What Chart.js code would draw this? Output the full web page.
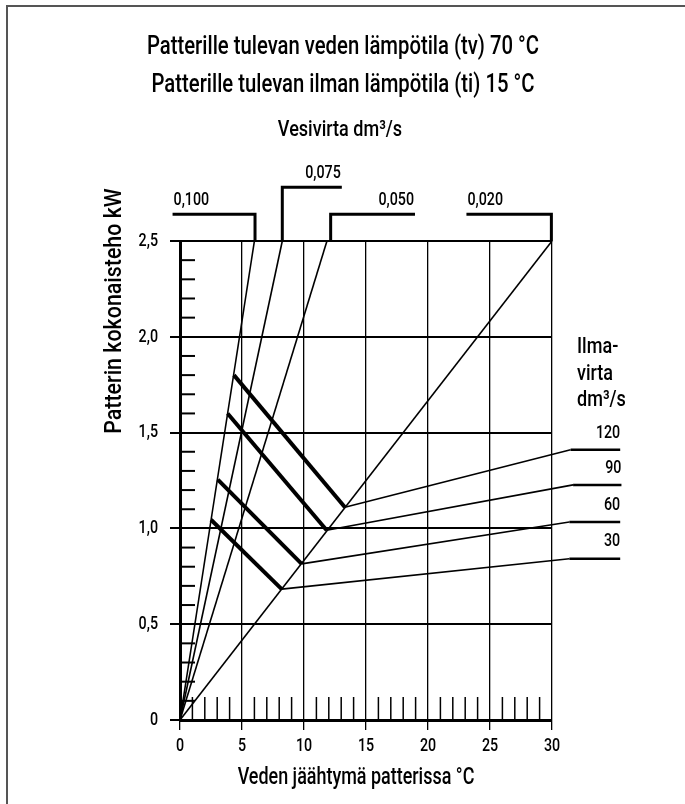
<!DOCTYPE html>
<html lang="fi">
<head>
<meta charset="utf-8">
<title>Patterin kokonaisteho</title>
<script src="https://cdn.jsdelivr.net/npm/chart.js@4.4.1/dist/chart.umd.min.js"></script>
<style>
  html, body { margin: 0; padding: 0; background: #fff; }
  canvas { display: block; }
</style>
</head>
<body>
<canvas id="chart" width="685" height="804"></canvas>
<script>
// === arvot luettu kuvasta ===
const xTicks = [0, 5, 10, 15, 20, 25, 30];
const xTickLabels = ['0', '5', '10', '15', '20', '25', '30'];
const yTicks = [0, 0.5, 1.0, 1.5, 2.0, 2.5];
const yTickLabels = ['0', '0,5', '1,0', '1,5', '2,0', '2,5'];
const xMinor = [1, 2, 3, 4, 6, 7, 8, 9, 11, 12, 13, 14, 16, 17, 18, 19, 21, 22, 23, 24, 26, 27, 28, 29];
const yMinor = [0.1, 0.2, 0.3, 0.4, 0.6, 0.7, 0.8, 0.9, 1.1, 1.2, 1.3, 1.4, 1.6, 1.7, 1.8, 1.9, 2.1, 2.2, 2.3, 2.4];

// vesivirta: suorat origosta 2,5 kW:iin
const vesiLabels = ['0,100', '0,075', '0,050', '0,020'];
const vesiTopX = [6.0, 8.25, 11.85, 30];
const vesiBracketX = [6.05, 8.25, 12.15, 29.95];
const vesiBracketY = [2.64, 2.78, 2.64, 2.64];
const vesiBracketEnd = [-0.6, 13.05, 18.95, 23.1];

// ilmavirta: paksu osa, ohut jatke ja merkintäviiva
const ilmaLabels = ['120', '90', '60', '30'];
const ilmaStartX = [4.35, 3.84, 3.05, 2.5];
const ilmaStartY = [1.80, 1.60, 1.255, 1.045];
const ilmaEndX = [13.3, 11.83, 9.81, 8.2];
const ilmaEndY = [1.11, 0.99, 0.815, 0.683];
const ilmaTailX = [31.5, 31.7, 31.4, 31.4];
const ilmaTailY = [1.41, 1.227, 1.033, 0.842];
const ilmaLabelEndX = [35.5, 35.6, 35.5, 35.5];

const FONT = 'Roboto, "Noto Sans", sans-serif';

function line(points, width) {
    return { data: points, borderColor: '#000', borderWidth: width, pointRadius: 0, fill: false, tension: 0, clip: false, borderCapStyle: 'butt' };
}

const datasets = [];
vesiTopX.forEach((tx, i) => {
    datasets.push(line([{ x: 0, y: 0 }, { x: tx, y: 2.5 }], 1.6));
    datasets.push(line([
        { x: vesiBracketEnd[i], y: vesiBracketY[i] },
        { x: vesiBracketX[i], y: vesiBracketY[i] },
        { x: vesiBracketX[i], y: 2.5 }
    ], 3));
});
ilmaLabels.forEach((lab, i) => {
    datasets.push(line([{ x: ilmaStartX[i], y: ilmaStartY[i] }, { x: ilmaEndX[i], y: ilmaEndY[i] }], 4));
    datasets.push(line([{ x: ilmaEndX[i], y: ilmaEndY[i] }, { x: ilmaTailX[i], y: ilmaTailY[i] }], 1.6));
    datasets.push(line([{ x: ilmaTailX[i], y: ilmaTailY[i] }, { x: ilmaLabelEndX[i], y: ilmaTailY[i] }], 2.5));
});

// kapea teksti: fontti puristetaan vaakasuunnassa (alkuperäinen on kapea groteski)
function text(ctx, str, x, y, size, align, sx) {
    ctx.save();
    ctx.translate(x, y);
    ctx.scale(sx || 0.8, 1);
    ctx.font = '500 ' + size + 'px ' + FONT;
    ctx.textAlign = align || 'center';
    ctx.textBaseline = 'middle';
    ctx.fillText(str, 0, 0);
    ctx.restore();
}

const overlay = {
    id: 'overlay',
    beforeDraw(chart) {
        const ctx = chart.ctx;
        ctx.save();
        ctx.strokeStyle = '#555';
        ctx.lineWidth = 2;
        ctx.beginPath();
        ctx.moveTo(7, 810); ctx.lineTo(7, 6); ctx.lineTo(690, 6);
        ctx.stroke();
        ctx.restore();
    },
    beforeDatasetsDraw(chart) {
        const { ctx, scales: { x, y } } = chart;
        ctx.save();
        ctx.strokeStyle = '#000';
        ctx.lineWidth = 2;
        yMinor.forEach(v => {
            const py = y.getPixelForValue(v);
            ctx.beginPath(); ctx.moveTo(x.getPixelForValue(0), py); ctx.lineTo(x.getPixelForValue(0) + 15, py); ctx.stroke();
        });
        ctx.lineWidth = 1.5;
        xMinor.forEach(v => {
            const px = x.getPixelForValue(v);
            ctx.beginPath(); ctx.moveTo(px, y.getPixelForValue(0)); ctx.lineTo(px, y.getPixelForValue(0) - 23); ctx.stroke();
        });
        ctx.restore();
    },
    afterDraw(chart) {
        const { ctx, scales: { x, y }, chartArea } = chart;
        ctx.save();
        ctx.fillStyle = '#000';
        text(ctx, 'Patterille tulevan veden lämpötila (tv) 70 °C', 343, 47, 26, 'center', 0.78);
        text(ctx, 'Patterille tulevan ilman lämpötila (ti) 15 °C', 343, 85, 26, 'center', 0.78);
        text(ctx, 'Vesivirta dm³/s', 340, 130, 22, 'center', 0.82);
        text(ctx, 'Veden jäähtymä patterissa °C', 356, 778, 23, 'center', 0.78);

        ctx.save();
        ctx.translate(115, 311);
        ctx.rotate(-Math.PI / 2);
        text(ctx, 'Patterin kokonaisteho kW', 0, 0, 23, 'center', 0.93);
        ctx.restore();

        // akseleiden numerot
        xTicks.forEach((v, i) => text(ctx, xTickLabels[i], x.getPixelForValue(v), 746, 19, 'center', 0.75));
        yTicks.forEach((v, i) => text(ctx, yTickLabels[i], chartArea.left - 22, y.getPixelForValue(v), 19, 'right', 0.75));

        vesiLabels.forEach((lab, i) => {
            const left = vesiBracketEnd[i] < vesiBracketX[i];
            text(ctx, lab, x.getPixelForValue(vesiBracketEnd[i]) + (left ? 1 : -1), y.getPixelForValue(vesiBracketY[i]) - 14, 19, left ? 'left' : 'right', 0.75);
        });
        ilmaLabels.forEach((lab, i) => {
            text(ctx, lab, x.getPixelForValue(ilmaLabelEndX[i]), y.getPixelForValue(ilmaTailY[i]) - 17, 19, 'right', 0.75);
        });
        const hx = chartArea.right + 25;
        text(ctx, 'Ilma-', hx, 347, 22, 'left', 0.82);
        text(ctx, 'virta', hx, 374, 22, 'left', 0.82);
        text(ctx, 'dm³/s', hx, 400, 22, 'left', 0.82);
        ctx.restore();
    }
};

new Chart(document.getElementById('chart'), {
    type: 'line',
    data: { datasets: datasets },
    plugins: [overlay],
    options: {
        responsive: false,
        animation: false,
        layout: { padding: { left: 0, right: 133, top: 241, bottom: 0 } },
        plugins: { legend: { display: false }, tooltip: { enabled: false } },
        scales: {
            x: {
                type: 'linear', min: 0, max: 30,
                afterBuildTicks: s => { s.ticks = xTicks.map(v => ({ value: v })); },
                afterFit: s => { s.height = 84; },
                grid: { color: '#000', lineWidth: 1.3, tickLength: 10, tickColor: '#000', tickWidth: 1.3 },
                border: { color: '#000', width: 3 },
                ticks: { display: false }
            },
            y: {
                type: 'linear', min: 0, max: 2.5,
                afterBuildTicks: s => { s.ticks = yTicks.map(v => ({ value: v })); },
                afterFit: s => { s.width = 180; },
                grid: { color: '#000', lineWidth: 2, tickLength: 10, tickColor: '#000', tickWidth: 2 },
                border: { color: '#000', width: 3 },
                ticks: { display: false }
            }
        }
    }
});
</script>
</body>
</html>
